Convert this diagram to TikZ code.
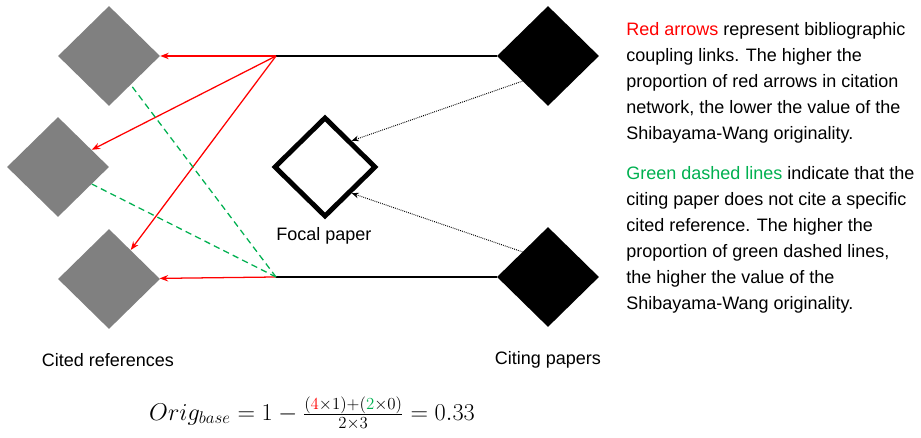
\documentclass[tikz,border=0pt]{standalone}
\usepackage{fontspec}
\setmainfont{Liberation Sans}
\usetikzlibrary{arrows.meta,shapes.geometric}

\definecolor{linkred}{RGB}{255,0,0}
\definecolor{linkgreen}{RGB}{0,176,80}

\begin{document}
\begin{tikzpicture}[
    paper/.style={diamond,minimum width=2.55cm,minimum height=2.5cm,inner sep=0pt},
    refpaper/.style={paper,fill=black!50},
    citepaper/.style={paper,fill=black},
    redarrow/.style={linkred,line width=0.9pt,-{Stealth[length=6pt,width=4.5pt]}},
    greendash/.style={linkgreen,line width=0.9pt,dash pattern=on 4.5pt off 3pt},
    dotarrow/.style={line width=0.7pt,dash pattern=on 0.6pt off 0.8pt,-{Stealth[length=5pt,width=4pt]}},
    lbl/.style={font=\fontsize{12.8}{15}\selectfont},
    note/.style={anchor=base west,inner sep=0pt,align=left,font=\fontsize{12.8}{18.5}\selectfont}]
    \useasboundingbox (0,0) rectangle (23.025,10.95);

    % cited references
    \node[refpaper] (ref1) at (2.725,9.55) {};
    \node[refpaper] (ref2) at (1.45,6.775) {};
    \node[refpaper] (ref3) at (2.725,3.975) {};

    % citing papers
    \node[citepaper] (cite1) at (13.7,9.55) {};
    \node[citepaper] (cite2) at (13.7,4.025) {};

    \node[paper,draw,line width=3.5pt] (focal) at (8.125,6.775) {};

    % where the citing links split
    \coordinate (hub1) at (6.9,9.55);
    \coordinate (hub2) at (6.9,4.025);

    % label
    \node[lbl] (reflabel) at (2.7,1.95) {Cited references};
    \node[lbl] (citelabel) at (13.7,1.95) {Citing papers};
    \node[lbl] (focallabel) at (8.1,5.05) {Focal paper};

    \draw[line width=0.9pt] (hub1)--(cite1);
    \draw[line width=0.9pt] (hub2)--(cite2);

    \foreach \from/\to in {hub1/ref1,hub1/ref2,hub1/ref3,hub2/ref3}
    \draw[redarrow] (\from)--(\to);

    \foreach \from/\to in {hub2/ref1,hub2/ref2}
    \draw[greendash] (\from)--(\to);

    \draw[dotarrow] (cite1.south west)--(focal.north east);
    \draw[dotarrow] (cite2.north west)--(focal.south east);

    % notes sit on the baseline of their last line
    \node[note] (note1) at (15.65,7.45) {{\color{linkred}Red arrows} represent bibliographic\\coupling links. The higher the\\proportion of red arrows in citation\\network, the lower the value of the\\Shibayama-Wang originality.};
    \node[note] (note2) at (15.65,3.2) {{\color{linkgreen}Green dashed lines} indicate that the\\citing paper does not cite a specific\\cited reference. The higher the\\proportion of green dashed lines,\\the higher the value of the\\Shibayama-Wang originality.};

    \node[font=\fontsize{16.5}{19}\selectfont] (orig) at (7.8,0.62)
      {$Orig_{base}=1-\frac{(\textcolor{linkred}{4}\times 1)+(\textcolor{linkgreen}{2}\times 0)}{2\times 3}=0.33$};
\end{tikzpicture}
\end{document}
